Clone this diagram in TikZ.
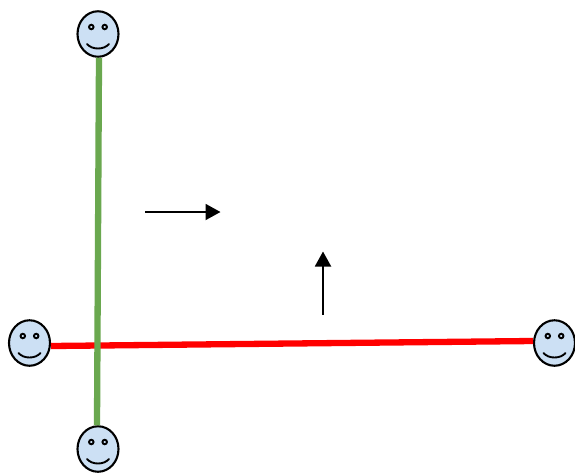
\documentclass[tikz,border=0pt]{standalone}
\usetikzlibrary{shapes.geometric,arrows.meta}
\definecolor{facefill}{RGB}{204,224,244}
\definecolor{greenline}{RGB}{106,168,79}
\tikzset{
  facebody/.style={ellipse,draw=black,fill=facefill,line width=2.1pt,minimum width=41pt,minimum height=45.5pt,inner sep=0pt,outer sep=0pt},
  faceeye/.style={circle,draw=black,line width=1.9pt,minimum size=4.5pt,inner sep=0pt},
  facesmile/.style={draw=black,line width=1.9pt,line cap=round},
  redbar/.style={draw=red,line width=6.3pt},
  greenbar/.style={draw=greenline,line width=6.3pt},
  flowarrow/.style={draw=black,line width=1.9pt,-{Triangle[length=15pt,width=16pt]}},
  face/.pic={
    \node[facebody] (-body) at (0,0) {};
    \node[faceeye] (-le) at (-6.7,-7) {};
    \node[faceeye] (-re) at (6.7,-7) {};
    \coordinate (-sl) at (-11,10);
    \coordinate (-sr) at (11,10);
    \path[facesmile] (-sl) .. controls (-6,16) and (6,16) .. (-sr);
  }
}
\begin{document}
\begin{tikzpicture}[x=1pt,y=-1pt]
\useasboundingbox (0,0) rectangle (575,472);
\pic (top) at (98,34) {face};
\pic (left) at (29.5,343) {face};
\pic (bottom) at (98,449) {face};
\pic (right) at (554.5,343) {face};
\path[redbar] ([yshift=-3pt,xshift=1pt]left-body.east) -- ([yshift=2pt,xshift=-1pt]right-body.west);
\path[greenbar] ([xshift=1pt,yshift=-1pt]top-body.south) -- ([xshift=-1pt,yshift=1pt]bottom-body.north);
\coordinate (hs) at (145,212);
\coordinate (he) at (220.5,212);
\coordinate (vs) at (323,314.5);
\coordinate (ve) at (323,251.5);
\path[flowarrow] (hs) -- (he);
\path[flowarrow] (vs) -- (ve);
\end{tikzpicture}
\end{document}
